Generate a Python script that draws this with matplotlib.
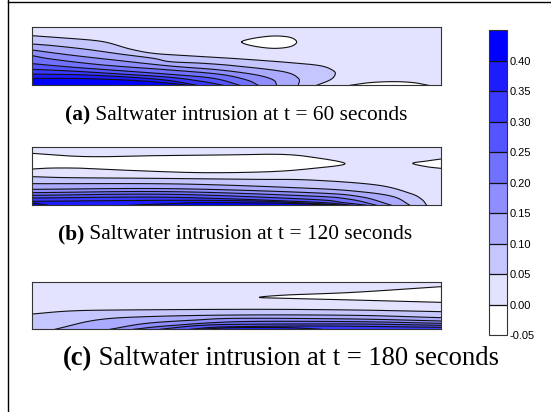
import numpy as np
import matplotlib
matplotlib.use('Agg')
import matplotlib.pyplot as plt
from matplotlib.colors import ListedColormap, BoundaryNorm
from matplotlib.colorbar import ColorbarBase

# ==========================================
# 1. data
# curve = (x along tank, depth value), depth grows downward
# ==========================================
LEVELS = [-0.05, 0.0, 0.05, 0.10, 0.15, 0.20, 0.25, 0.30, 0.35, 0.40, 0.45]
TICKS = [-0.05, 0.0, 0.05, 0.10, 0.15, 0.20, 0.25, 0.30, 0.35, 0.40]
TICK_LABELS = ['-0.05', '0.00', '0.05', '0.10', '0.15', '0.20', '0.25', '0.30', '0.35', '0.40']

a_x_range = (37, 1262)
a_y_range = (196, 20)
a_lines = {
    0.05: [(37, 47), (150, 55), (250, 65), (330, 87), (400, 100), (500, 107), (650, 116), (800, 127), (900, 137), (940, 152), (945, 165), (930, 180), (890, 196)],
    0.10: [(37, 72), (100, 77), (200, 88), (300, 102), (400, 115), (450, 125), (550, 130), (650, 138), (790, 155), (835, 175), (835, 196)],
    0.15: [(37, 90), (150, 105), (300, 122), (450, 138), (600, 150), (710, 165), (760, 180), (770, 196)],
    0.20: [(37, 107), (100, 118), (250, 135), (450, 150), (600, 163), (680, 180), (715, 196)],
    0.25: [(37, 131), (150, 141), (300, 152), (450, 163), (580, 175), (660, 196)],
    0.30: [(37, 148), (150, 153), (300, 162), (450, 172), (550, 185), (610, 196)],
    0.35: [(37, 162), (200, 165), (350, 173), (450, 182), (530, 196)],
    0.40: [(37, 175), (200, 176), (350, 182), (450, 190), (500, 196)],
}
a_white = [
    [(665, 66), (700, 55), (760, 48), (810, 52), (830, 66), (810, 80), (760, 85), (700, 78), (665, 66)],
    [(990, 196), (1050, 188), (1120, 185), (1180, 188), (1225, 196)],
]

b_x_range = (37, 1262)
b_y_range = (196, 20)
b_lines = {
    0.05: [(37, 110), (150, 113), (400, 115), (700, 118), (870, 120), (1070, 135), (1170, 160), (1205, 178), (1220, 196)],
    0.10: [(37, 131), (480, 132), (870, 145), (1020, 155), (1120, 170), (1170, 196)],
    0.15: [(37, 148), (450, 146), (870, 158), (1020, 170), (1115, 196)],
    0.20: [(37, 158), (450, 155), (870, 168), (990, 178), (1070, 196)],
    0.25: [(37, 166), (450, 163), (870, 178), (970, 188), (1040, 196)],
    0.30: [(37, 174), (450, 172), (870, 186), (1000, 196)],
    0.35: [(37, 184), (450, 181), (700, 183), (870, 190), (975, 196)],
}
b_top = [(330, 196), (450, 191), (550, 188), (800, 190), (950, 196)]  # 0.40 patch on the bed
b_corner = [(37, 189), (60, 192), (85, 196)]
b_white = [
    [(37, 40), (150, 48), (250, 50), (400, 47), (600, 45), (780, 43), (880, 52), (975, 71), (880, 85), (750, 95), (550, 98), (350, 92), (200, 85), (100, 84), (37, 87)],
    [(1262, 57), (1220, 63), (1178, 70), (1220, 80), (1262, 85)],
]

c_x_range = (37, 1262)
c_y_range = (178, 35)
c_lines = {
    0.05: [(37, 132), (150, 123), (300, 120), (700, 118), (1000, 120), (1262, 125)],
    0.10: [(105, 178), (230, 150), (380, 140), (660, 135), (1000, 136), (1262, 143)],
    0.15: [(270, 178), (380, 160), (530, 150), (660, 145), (1000, 147), (1262, 153)],
    0.20: [(340, 178), (450, 167), (660, 155), (1000, 155), (1262, 160)],
    0.25: [(420, 178), (530, 167), (660, 163), (1000, 162), (1262, 166)],
    0.30: [(510, 178), (580, 172), (660, 170), (900, 168), (1262, 172)],
}
c_top = [(540, 178), (640, 173), (800, 173), (905, 178)]  # 0.35 patch
c_white = [
    [(1262, 50), (1000, 67), (800, 75), (718, 82), (800, 85), (1000, 90), (1262, 97)],
]

caption_a = ('(a)', ' Saltwater intrusion at t = 60 seconds')
caption_b = ('(b)', ' Saltwater intrusion at t = 120 seconds')
caption_c = ('(c)', ' Saltwater intrusion at t = 180 seconds')

# ==========================================
# 2. helpers
# ==========================================
W, H = 551, 412
colors = [(1 - i / 9, 1 - i / 9, 1.0) for i in range(10)]
cmap = ListedColormap(colors)
norm = BoundaryNorm(LEVELS, cmap.N)


def smooth(points, n=12):
    """Catmull-Rom through the read points so the lines are not angular"""
    p = np.array(points, dtype=float)
    if np.allclose(p[0], p[-1]):
        q = np.vstack([p[-2], p, p[1]])
    else:
        q = np.vstack([2 * p[0] - p[1], p, 2 * p[-1] - p[-2]])
    out = []
    t = np.linspace(0, 1, n, endpoint=False)[:, None]
    for i in range(1, len(q) - 2):
        p0, p1, p2, p3 = q[i - 1], q[i], q[i + 1], q[i + 2]
        out.append(0.5 * (2 * p1 + (p2 - p0) * t + (2 * p0 - 5 * p1 + 4 * p2 - p3) * t ** 2
                          + (3 * p1 - p0 - 3 * p2 + p3) * t ** 3))
    out.append(p[-1:])
    return np.vstack(out)


def add_axes_px(fig, left, top, right, bottom):
    return fig.add_axes([left / W, 1 - bottom / H, (right - left) / W, (bottom - top) / H])


def draw_panel(ax, lines, white, x_range, y_range, extra=()):
    ax.set_xlim(x_range)
    ax.set_ylim(y_range)
    ax.set_facecolor(cmap(norm(0.02)))
    bed = y_range[0]
    layers = [(lev, pts) for lev, pts in lines.items()] + list(extra)
    for lev, pts in layers:
        s = smooth(pts)
        xs = np.r_[s[:, 0], s[-1, 0], s[0, 0]]
        ys = np.r_[s[:, 1], bed, bed]
        ax.fill(xs, ys, color=cmap(norm(lev + 0.02)), lw=0, zorder=2)
        ax.plot(s[:, 0], s[:, 1], color='#111111', lw=0.8, zorder=3)
    for pts in white:
        s = smooth(pts)
        xs = np.r_[s[:, 0], s[-1, 0], s[0, 0]] if s[0, 1] == bed else s[:, 0]
        ys = np.r_[s[:, 1], bed, bed] if s[0, 1] == bed else s[:, 1]
        ax.fill(xs, ys, color='white', lw=0, zorder=2)
        ax.plot(s[:, 0], s[:, 1], color='#111111', lw=0.8, zorder=3)
    ax.set_xticks([])
    ax.set_yticks([])
    for sp in ax.spines.values():
        sp.set_linewidth(0.8)
        sp.set_color('#333333')
        sp.set_zorder(5)


def caption(fig, left_px, base_px, parts, size):
    """bold label then regular text on the same baseline"""
    r = fig.canvas.get_renderer()
    t = fig.text(left_px / W, 1 - base_px / H, parts[0], family='Liberation Serif',
                 fontweight='bold', fontsize=size, va='baseline')
    ext = t.get_window_extent(r)
    fig.text(ext.x1 / W, 1 - base_px / H, parts[1], family='Liberation Serif',
             fontsize=size, va='baseline')


# ==========================================
# 3. figure
# ==========================================
fig = plt.figure(figsize=(W / 100, H / 100), dpi=100)

ax_a = add_axes_px(fig, 32.3, 26.7, 440.7, 85.3)
draw_panel(ax_a, a_lines, a_white, a_x_range, a_y_range)

ax_b = add_axes_px(fig, 32.3, 146.7, 440.7, 205.3)
draw_panel(ax_b, b_lines, b_white, b_x_range, b_y_range, extra=[(0.40, b_top), (0.40, b_corner)])

ax_c = add_axes_px(fig, 32.3, 281.7, 440.7, 329.3)
draw_panel(ax_c, c_lines, c_white, c_x_range, c_y_range, extra=[(0.35, c_top)])

caption(fig, 65, 120, caption_a, 15.4)
caption(fig, 58, 239, caption_b, 15.4)
caption(fig, 63, 365, caption_c, 19.2)

cax = add_axes_px(fig, 488.5, 30, 507, 335.3)
cb = ColorbarBase(cax, cmap=cmap, norm=norm, boundaries=LEVELS, ticks=TICKS, spacing='proportional')
cb.ax.set_yticklabels(TICK_LABELS, family='Liberation Sans', fontsize=8)
cb.ax.tick_params(length=0, pad=2)
cb.ax.minorticks_off()
cb.outline.set_linewidth(0.8)
cb.outline.set_edgecolor('#333333')
for lev in LEVELS[1:-1]:
    cax.axhline(lev, color='#111111', lw=0.9)

# page frame (left and top edge)
fig.add_artist(plt.Line2D([7.5 / W, 7.5 / W], [0, 1], color='black', lw=1.0))
fig.add_artist(plt.Line2D([7.5 / W, 1], [1 - 2 / H, 1 - 2 / H], color='black', lw=1.0))

fig.savefig('out.png', dpi=100)
